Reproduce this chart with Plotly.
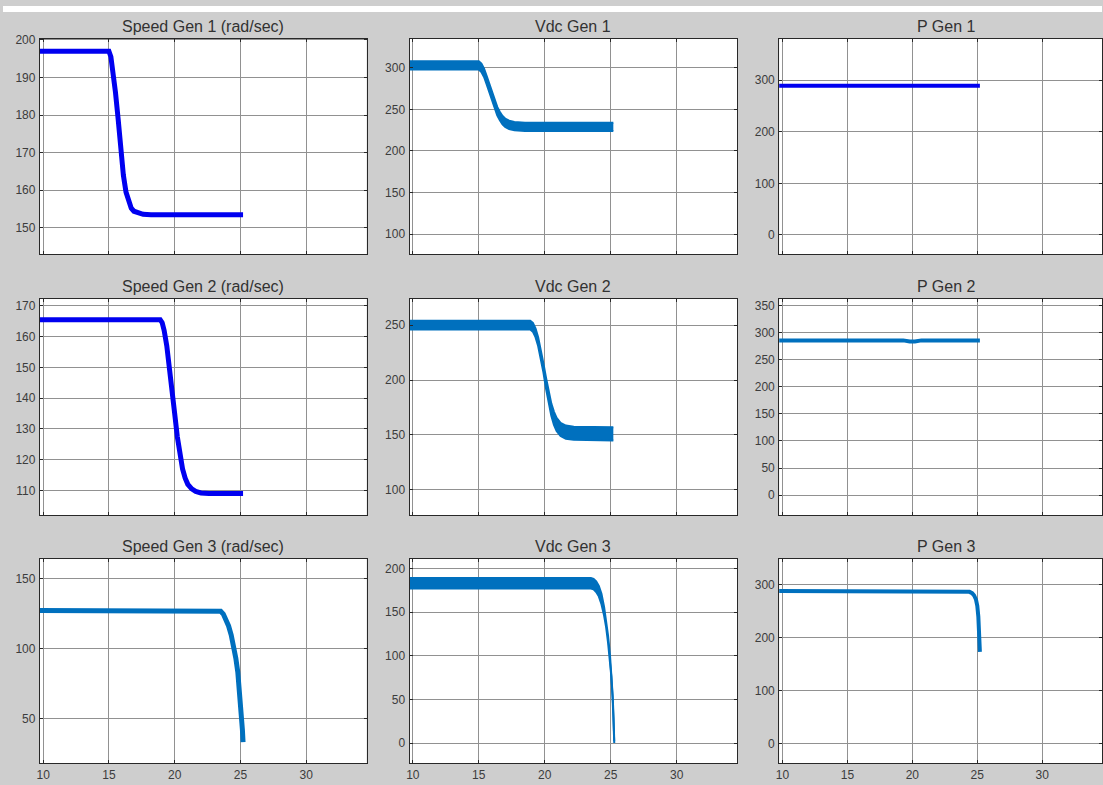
import plotly.graph_objects as go

W, H = 1103, 785

# ---------------- data ----------------
titles = ["Speed Gen 1 (rad/sec)", "Vdc Gen 1", "P Gen 1",
          "Speed Gen 2 (rad/sec)", "Vdc Gen 2", "P Gen 2",
          "Speed Gen 3 (rad/sec)", "Vdc Gen 3", "P Gen 3"]

x_ticks = [10, 15, 20, 25, 30]

# Speed Gen 1
t_speed1 = [9.6, 15.0, 15.15, 15.3, 15.5, 15.7, 15.9, 16.1, 16.3, 16.5, 16.7, 16.9, 17.2, 17.6, 18.2, 25.2]
v_speed1 = [197, 197, 195.5, 192, 186, 179, 171, 164, 159.5, 156.8, 155.2, 154.4, 153.9, 153.6, 153.5, 153.5]

# Vdc Gen 1 (ripple band: upper / lower envelope)
t_vdc1 = [9.5, 15.0, 15.2, 15.4, 15.6, 15.8, 16.0, 16.2, 16.4, 16.6, 16.8, 17.0, 17.3, 17.7, 18.5, 25.2]
vdc1_upper = [308, 308, 305, 299, 290, 280, 270, 261, 253, 247, 242, 239, 236.5, 235, 234, 234]
vdc1_lower = [298, 298, 295, 289, 280, 270, 260, 251, 243, 237, 232, 229, 226.5, 225, 224, 224]

# P Gen 1
t_p1 = [9.5, 15.5, 16.0, 16.5, 17.0, 25.2]
v_p1 = [289, 289, 287.5, 288, 289, 289]

# Speed Gen 2
t_speed2 = [9.6, 18.9, 19.05, 19.2, 19.4, 19.6, 19.8, 20.0, 20.2, 20.4, 20.6, 20.8, 21.0, 21.3, 21.6, 22.0, 22.6, 25.2]
v_speed2 = [165.5, 165.5, 164.5, 162, 157, 150.5, 143, 135, 127.5, 121.5, 117, 114, 112, 110.5, 109.7, 109.2, 109, 109]

# Vdc Gen 2 (ripple band)
t_vdc2 = [9.5, 18.9, 19.1, 19.3, 19.5, 19.7, 19.9, 20.1, 20.3, 20.5, 20.7, 20.9, 21.2, 21.6, 22.2, 25.2]
vdc2_upper = [254, 254, 252, 247, 239, 228, 215, 202, 189, 178.5, 171, 165.5, 161, 158.5, 157.5, 157]
vdc2_lower = [246, 246, 244, 239, 231, 220, 207, 192, 179, 167.5, 159, 153.5, 149, 146.5, 145.5, 145]

# P Gen 2
t_p2 = [9.5, 19.3, 19.8, 20.2, 20.7, 25.2]
v_p2 = [286, 286, 284, 284, 286, 286]

# Speed Gen 3
t_speed3 = [9.6, 23.3, 23.5, 23.7, 23.9, 24.1, 24.3, 24.5, 24.65, 24.8, 24.95, 25.05, 25.15, 25.2]
v_speed3 = [127, 127, 126.5, 124.5, 121, 116, 109.5, 101, 93, 83, 68, 55, 42, 33]

# Vdc Gen 3 (ripple band)
t_vdc3 = [9.5, 23.5, 23.7, 23.9, 24.1, 24.3, 24.5, 24.65, 24.8, 24.95, 25.05, 25.15, 25.22, 25.27]
vdc3_upper = [189, 189, 188, 185, 180, 171, 156, 141, 123, 100, 80, 54, 29, 2]
vdc3_lower = [177, 177, 176, 173, 168, 159, 146, 133, 115, 94, 76, 50, 27, 0]

# P Gen 3
t_p3 = [9.5, 24.0, 24.2, 24.4, 24.6, 24.75, 24.9, 25.0, 25.08, 25.14, 25.2]
v_p3 = [288, 288, 287.5, 286.5, 284, 280, 272, 260, 240, 210, 173]

# axis ranges / ticks per panel
y_ranges = [[143, 200.3], [76, 335], [-37, 380],
            [102, 172.3], [77, 274], [-37, 363],
            [18, 164], [-23, 211], [-37, 349]]
y_dticks = [10, 50, 100, 10, 50, 50, 50, 50, 100]
x_range = [9.75, 34.6]

# ---------------- styling ----------------
BLUE = "rgb(0,0,240)"
MBLUE = "rgb(0,112,190)"
BG = "rgb(206,206,206)"
GRID = "rgb(145,145,145)"
FONT = "Liberation Sans, Arial, sans-serif"

cols_px = [(37, 365), (408, 737), (779, 1103)]
rows_px = [(33, 250), (295, 513), (557, 763)]
title_cx = [201, 572, 947]

fig = go.Figure()

def axname(i, kind):
    return kind if i == 0 else f"{kind}{i+1}"

def add_line(i, t, v, color, width):
    fig.add_trace(go.Scatter(x=t, y=v, mode="lines",
                             line=dict(color=color, width=width),
                             xaxis=axname(i, "x"), yaxis=axname(i, "y"),
                             hoverinfo="skip", showlegend=False))

def add_band(i, t, up, lo, color):
    fig.add_trace(go.Scatter(x=t, y=lo, mode="lines",
                             line=dict(color=color, width=2),
                             xaxis=axname(i, "x"), yaxis=axname(i, "y"),
                             hoverinfo="skip", showlegend=False))
    fig.add_trace(go.Scatter(x=t, y=up, mode="lines", fill="tonexty", fillcolor=color,
                             line=dict(color=color, width=2),
                             xaxis=axname(i, "x"), yaxis=axname(i, "y"),
                             hoverinfo="skip", showlegend=False))

add_line(0, t_speed1, v_speed1, BLUE, 5)
add_band(1, t_vdc1, vdc1_upper, vdc1_lower, MBLUE)
add_line(2, t_p1, v_p1, BLUE, 4)
add_line(3, t_speed2, v_speed2, BLUE, 5)
add_band(4, t_vdc2, vdc2_upper, vdc2_lower, MBLUE)
add_line(5, t_p2, v_p2, MBLUE, 4)
add_line(6, t_speed3, v_speed3, MBLUE, 5)
add_band(7, t_vdc3, vdc3_upper, vdc3_lower, MBLUE)
add_line(8, t_p3, v_p3, MBLUE, 4)

layout = dict(width=W, height=H, margin=dict(l=0, r=0, t=0, b=0),
              paper_bgcolor=BG, plot_bgcolor="white", showlegend=False,
              font=dict(family=FONT, color="rgb(60,60,60)", size=12))

annotations = []
for i in range(9):
    r, c = divmod(i, 3)
    l, rr = cols_px[c]
    top, bot = rows_px[r]
    xd = [l / W, min(rr / W, 1.0)]
    yd = [1 - bot / H, 1 - top / H]
    layout[f"xaxis{'' if i == 0 else i+1}"] = dict(
        domain=xd, range=x_range, tickvals=x_ticks,
        showticklabels=(r == 2), ticks="inside", ticklen=3, tickcolor="rgb(40,40,40)",
        showgrid=True, gridcolor=GRID, gridwidth=1,
        showline=True, linecolor="rgb(40,40,40)", linewidth=1, mirror="allticks",
        zeroline=False, anchor=axname(i, "y"),
        tickfont=dict(size=12, color="rgb(60,60,60)", family=FONT))
    lo, hi = y_ranges[i]
    layout[f"yaxis{'' if i == 0 else i+1}"] = dict(
        domain=yd, range=[lo, hi], dtick=y_dticks[i], tick0=0,
        ticks="inside", ticklen=3, tickcolor="rgb(40,40,40)",
        showgrid=True, gridcolor=GRID, gridwidth=1,
        showline=True, linecolor="rgb(40,40,40)", linewidth=1, mirror="allticks",
        zeroline=False, anchor=axname(i, "x"), ticklabelstandoff=1,
        tickfont=dict(size=12, color="rgb(60,60,60)", family=FONT))
    annotations.append(dict(text=titles[i], xref="paper", yref="paper",
                            x=title_cx[c] / W,
                            y=1 - (top - 12) / H, xanchor="center", yanchor="middle",
                            showarrow=False,
                            font=dict(size=16, color="rgb(50,50,50)", family=FONT)))

layout["annotations"] = annotations
layout["shapes"] = [dict(type="rect", xref="paper", yref="paper", x0=0, x1=1,
                         y0=1 - 6 / H, y1=1, fillcolor="white", line=dict(width=0),
                         layer="below")]
fig.update_layout(**layout)

fig.write_html("out.html")
